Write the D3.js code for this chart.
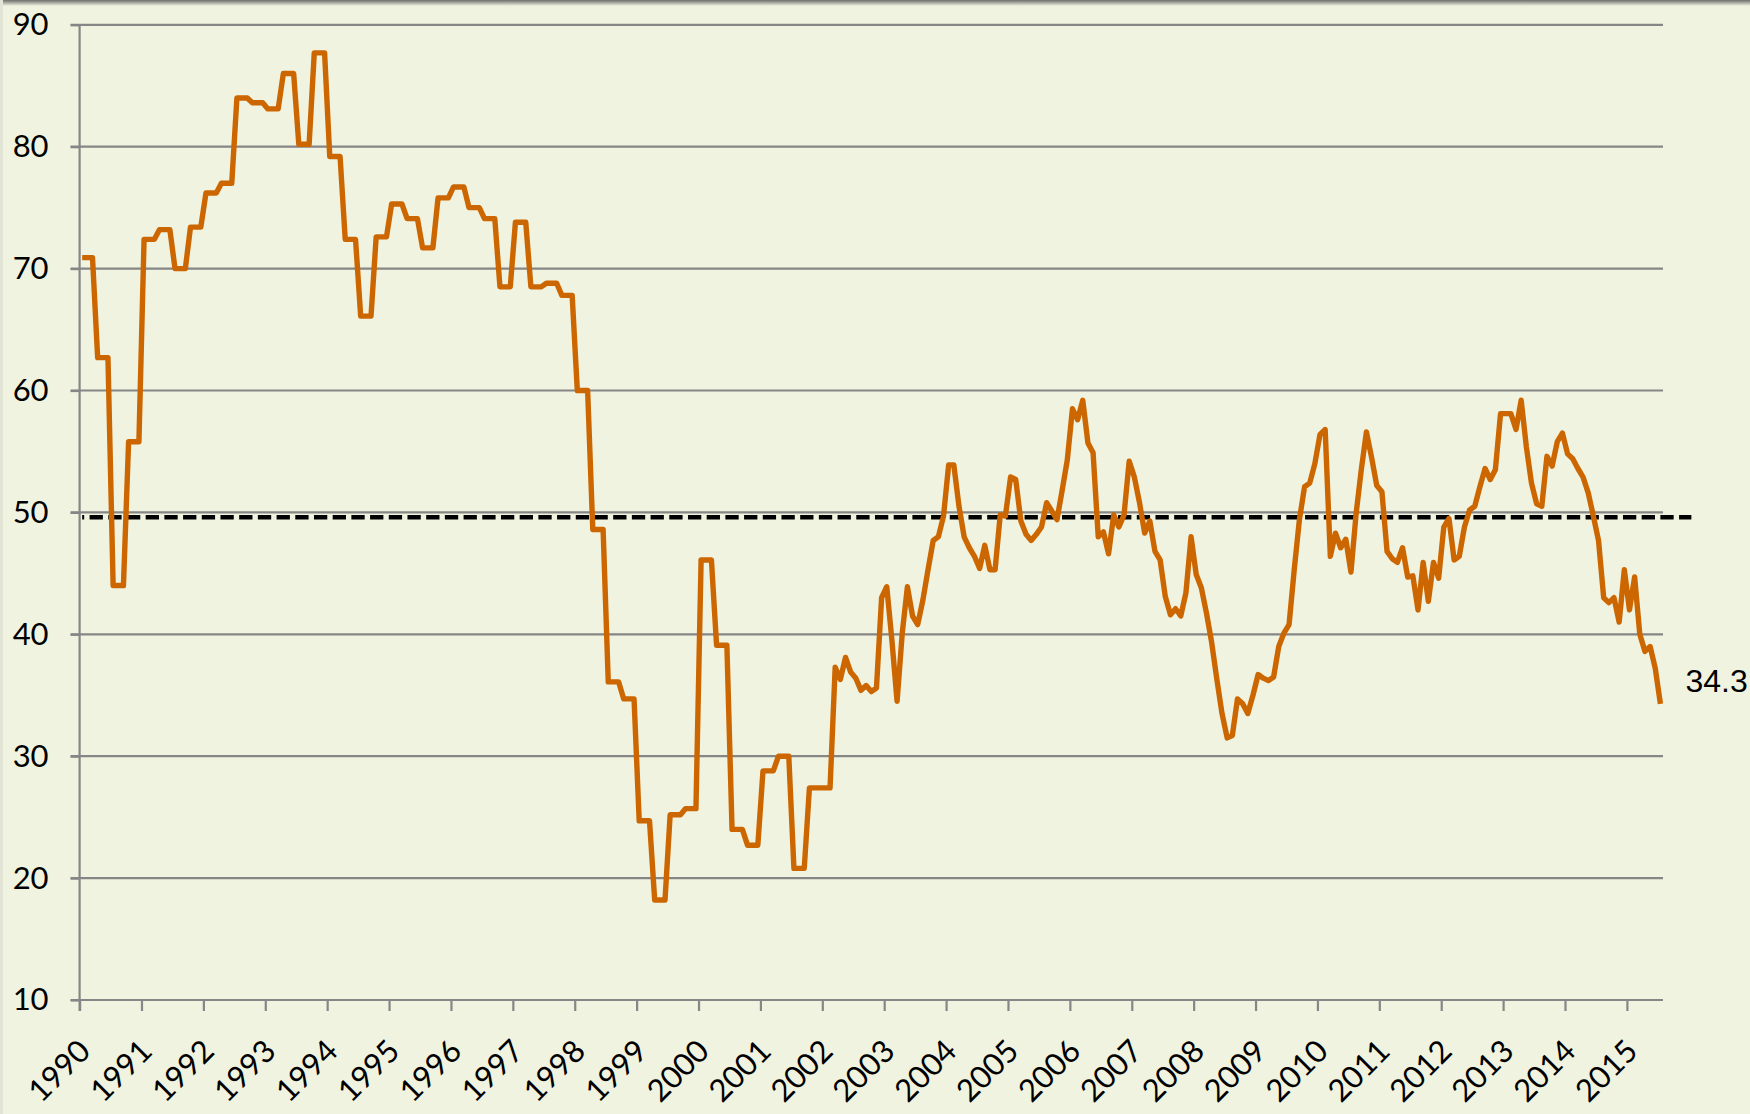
<!DOCTYPE html>
<html>
<head>
<meta charset="utf-8">
<script src="https://cdn.jsdelivr.net/npm/d3@7/dist/d3.min.js"></script>
<style>
  body { margin: 0; background: #f0f3df; }
  svg { display: block; }
  .grid line { stroke: #868686; stroke-width: 2.2; }
  .axis path, .axis line { stroke: #868686; stroke-width: 2.2; }
  .axis text { font-family: Lato, "Noto Sans", sans-serif; font-size: 31px; fill: #000; }
</style>
</head>
<body>
<div id="chart"></div>
<script>
/* global d3 */
// monthly series, Jan 1990 .. Jul 2015 (quarterly readings repeated until 2002)
const startYear = 1990
const pmi = [
  70.9, 70.9, 70.9, 62.7, 62.7, 62.7, 44.0, 44.0, 44.0, 55.8, 55.8, 55.8, // 1990
  72.4, 72.4, 72.4, 73.2, 73.2, 73.2, 70.0, 70.0, 70.0, 73.4, 73.4, 73.4, // 1991
  76.2, 76.2, 76.2, 77.0, 77.0, 77.0, 84.0, 84.0, 84.0, 83.6, 83.6, 83.6, // 1992
  83.1, 83.1, 83.1, 86.0, 86.0, 86.0, 80.2, 80.2, 80.2, 87.7, 87.7, 87.7, // 1993
  79.2, 79.2, 79.2, 72.4, 72.4, 72.4, 66.1, 66.1, 66.1, 72.6, 72.6, 72.6, // 1994
  75.3, 75.3, 75.3, 74.1, 74.1, 74.1, 71.7, 71.7, 71.7, 75.8, 75.8, 75.8, // 1995
  76.7, 76.7, 76.7, 75.0, 75.0, 75.0, 74.1, 74.1, 74.1, 68.5, 68.5, 68.5, // 1996
  73.8, 73.8, 73.8, 68.5, 68.5, 68.5, 68.8, 68.8, 68.8, 67.8, 67.8, 67.8, // 1997
  60.0, 60.0, 60.0, 48.6, 48.6, 48.6, 36.1, 36.1, 36.1, 34.7, 34.7, 34.7, // 1998
  24.7, 24.7, 24.7, 18.2, 18.2, 18.2, 25.2, 25.2, 25.2, 25.7, 25.7, 25.7, // 1999
  46.1, 46.1, 46.1, 39.1, 39.1, 39.1, 24.0, 24.0, 24.0, 22.7, 22.7, 22.7, // 2000
  28.8, 28.8, 28.8, 30.0, 30.0, 30.0, 20.8, 20.8, 20.8, 27.4, 27.4, 27.4, // 2001
  27.4, 27.4, 37.3, 36.3, 38.1, 36.9, 36.4, 35.4, 35.8, 35.3, 35.6, 43.0, // 2002
  43.9, 39.5, 34.5, 40.1, 43.9, 41.5, 40.8, 42.8, 45.3, 47.7, 48.0, 49.7, // 2003
  53.9, 53.9, 50.5, 48.0, 47.1, 46.4, 45.4, 47.3, 45.3, 45.3, 49.8, 49.7, // 2004
  52.9, 52.7, 49.3, 48.2, 47.7, 48.2, 48.8, 50.8, 50.1, 49.4, 51.8, 54.3, // 2005
  58.5, 57.6, 59.2, 55.7, 54.9, 48.0, 48.4, 46.6, 49.8, 48.8, 49.8, 54.2, // 2006
  52.9, 50.8, 48.3, 49.3, 46.8, 46.1, 43.1, 41.6, 42.1, 41.5, 43.4, 48.0, // 2007
  44.9, 43.8, 41.7, 39.3, 36.3, 33.5, 31.5, 31.7, 34.7, 34.3, 33.5, 35.0, // 2008
  36.7, 36.4, 36.2, 36.5, 39.0, 40.1, 40.8, 45.3, 49.4, 52.1, 52.4, 54.0, // 2009
  56.4, 56.8, 46.4, 48.3, 47.1, 47.8, 45.1, 49.9, 53.5, 56.6, 54.5, 52.2, // 2010
  51.7, 46.8, 46.2, 45.9, 47.1, 44.7, 44.8, 42.0, 45.9, 42.7, 45.9, 44.6, // 2011
  48.8, 49.5, 46.1, 46.4, 48.8, 50.2, 50.5, 52.1, 53.6, 52.7, 53.5, 58.1, // 2012
  58.1, 58.1, 56.8, 59.2, 55.4, 52.4, 50.7, 50.5, 54.6, 53.8, 55.8, 56.5, // 2013
  54.8, 54.4, 53.6, 52.9, 51.6, 49.7, 47.7, 43.0, 42.6, 43.0, 41.0, 45.3, // 2014
  42.0, 44.7, 40.0, 38.6, 39.0, 37.2, 34.3                                 // 2015
]
const yTicks = [10, 20, 30, 40, 50, 60, 70, 80, 90]
const refLevel = 49.6
const refSpan = [0, 312] // category span of the dashed reference series
const lastLabel = "34.3"

const svgW = 1750, svgH = 1114
const margin = {top: 24.8, right: 87, bottom: 114, left: 79.6}
const width = svgW - margin.left - margin.right
const height = svgH - margin.top - margin.bottom

const svgRoot = d3.select("#chart").append("svg")
  .attr("width", svgW)
  .attr("height", svgH)

// background + faint frame shadow at the top
let defs = svgRoot.append("defs")
let grad = defs.append("linearGradient").attr("id", "topShade")
  .attr("x1", 0).attr("y1", 0).attr("x2", 0).attr("y2", 1)
grad.append("stop").attr("offset", "0%").attr("stop-color", "#6e6e6c")
grad.append("stop").attr("offset", "100%").attr("stop-color", "#f0f3df")
svgRoot.append("rect").attr("width", svgW).attr("height", svgH).attr("fill", "#f0f3df")
svgRoot.append("rect").attr("width", svgW).attr("height", 6).attr("fill", "url(#topShade)")
svgRoot.append("rect").attr("width", 3).attr("height", svgH).attr("fill", "#e2e4d6")

const svg = svgRoot.append("g")
  .attr("transform", "translate(" + margin.left + "," + margin.top + ")")

// SCALES
const x = d3.scaleLinear().domain([0, pmi.length]).range([0, width])
const y = d3.scaleLinear().domain([10, 90]).range([height, 0])

// GRIDLINES (they run past the axis as tick marks)
svg.append("g")
  .attr("class", "grid")
  .selectAll("line")
  .data(yTicks)
  .join("line")
  .attr("x1", -9)
  .attr("x2", width)
  .attr("y1", d => y(d))
  .attr("y2", d => y(d))

// Y AXIS
const yAxis = d3.axisLeft(y)
  .tickValues(yTicks)
  .tickSize(9)
  .tickPadding(22)
svg.append("g")
  .attr("class", "y axis")
  .call(yAxis)
  .call(g => g.select(".domain").remove())
svg.append("line")
  .attr("class", "yline")
  .attr("x1", 0).attr("x2", 0)
  .attr("y1", y(90)).attr("y2", height + 11)
  .attr("stroke", "#868686").attr("stroke-width", 2.2)

// X AXIS: a tick every 12 months
const xAxis = d3.axisBottom(x)
  .tickValues(d3.range(0, pmi.length, 12))
  .tickSize(11)
  .tickFormat(d => startYear + d / 12)
svg.append("g")
  .attr("class", "x axis")
  .attr("transform", "translate(0," + height + ")")
  .call(xAxis)
  .call(g => g.select(".domain").attr("d", "M0,0H" + width))
  .selectAll(".tick text")
  .attr("text-anchor", "end")
  .attr("x", null).attr("y", null).attr("dy", null)
  .attr("transform", "translate(12,53) rotate(-45)")

// DASHED REFERENCE LINE
svg.append("line")
  .attr("x1", x(refSpan[0] + 0.5))
  .attr("x2", x(refSpan[1] + 0.5))
  .attr("y1", y(refLevel))
  .attr("y2", y(refLevel))
  .attr("stroke", "#000")
  .attr("stroke-width", 4.5)
  .attr("stroke-dasharray", "13.3,5.4")
  .attr("stroke-dashoffset", 11.3)

// SERIES
const line = d3.line()
  .x((d, i) => x(i + 0.5))
  .y(d => y(d))
svg.append("path")
  .datum(pmi)
  .attr("fill", "none")
  .attr("stroke", "#cc6600")
  .attr("stroke-width", 5.4)
  .attr("stroke-linejoin", "round")
  .attr("d", line)

// END LABEL
let last = pmi.length - 1
svg.append("text")
  .attr("x", x(last + 0.5) + 25)
  .attr("y", y(pmi[last]) - 12)
  .attr("font-family", "'Liberation Sans', Arial, sans-serif")
  .attr("font-size", 32)
  .attr("fill", "#000")
  .text(lastLabel)
</script>
</body>
</html>
